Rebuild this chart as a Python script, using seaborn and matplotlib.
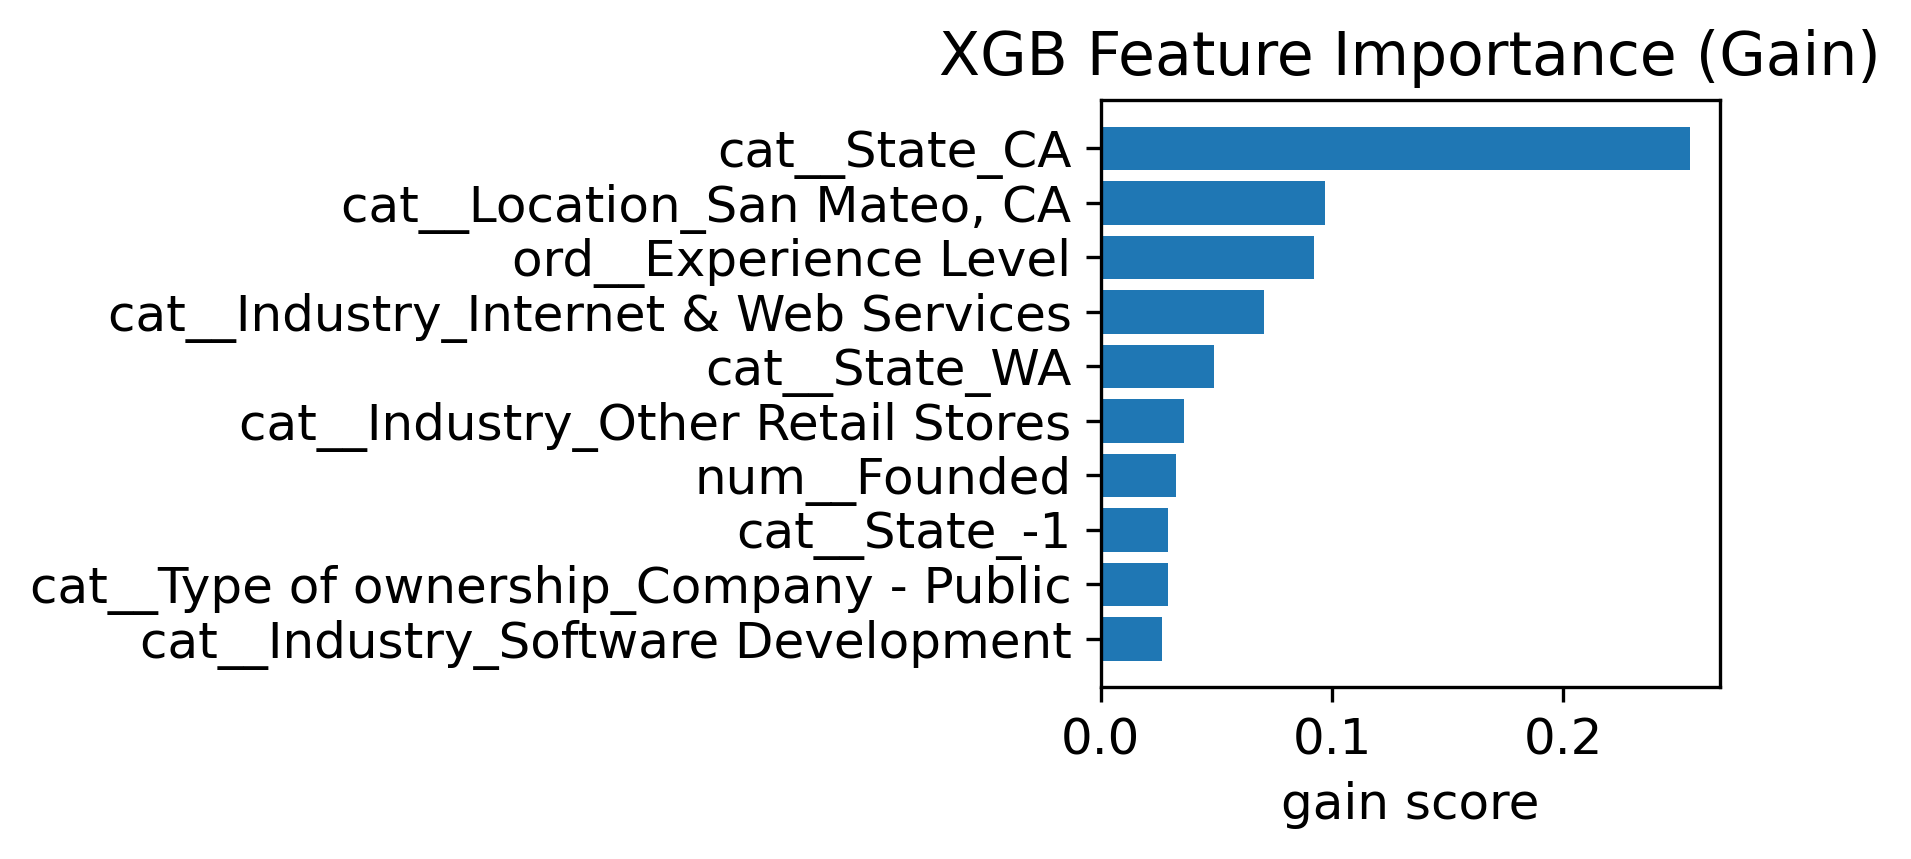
import matplotlib
matplotlib.use("Agg")
import matplotlib.pyplot as plt
import seaborn as sns
import pandas as pd

features = [
    "cat__State_CA",
    "cat__Location_San Mateo, CA",
    "ord__Experience Level",
    "cat__Industry_Internet & Web Services",
    "cat__State_WA",
    "cat__Industry_Other Retail Stores",
    "num__Founded",
    "cat__State_-1",
    "cat__Type of ownership_Company - Public",
    "cat__Industry_Software Development",
]
gain = [0.2550, 0.0968, 0.0921, 0.0705, 0.0489, 0.0358, 0.0326, 0.0289, 0.0289, 0.0263]

df = pd.DataFrame({"feature": features, "gain": gain})

plt.rcParams["font.size"] = 12
DPI = 300
fig = plt.figure(figsize=(1911 / DPI, 859 / DPI), dpi=DPI)
ax = fig.add_axes([0.576, 0.1998, 0.324, 0.684])
sns.barplot(data=df, x="gain", y="feature", orient="h", color="#1f77b4",
            saturation=1, width=0.8, ax=ax)
n = len(features)
pad = 0.4 + 0.05 * (n - 1 + 0.8)
ax.set_ylim(n - 1 + pad, -pad)
ax.set_xlim(0, max(gain) * 1.05)
ax.set_xticks([0.0, 0.1, 0.2])
ax.set_xlabel("gain score")
ax.set_ylabel("")
ax.set_title("XGB Feature Importance (Gain)")
for s in ax.spines.values():
    s.set_visible(True)
fig.savefig("out.png", dpi=DPI)
